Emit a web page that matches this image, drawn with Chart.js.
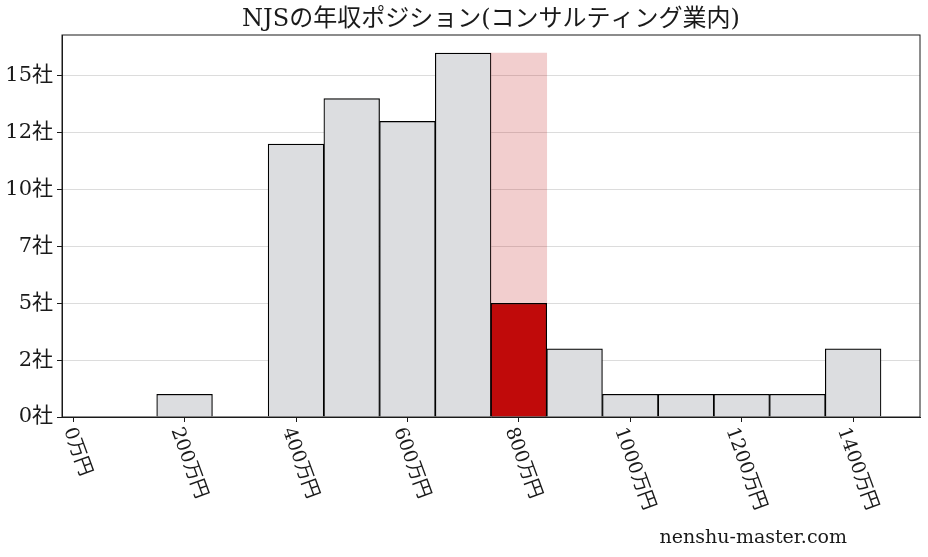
<!DOCTYPE html>
<html>
<head>
<meta charset="utf-8">
<script src="https://cdn.jsdelivr.net/npm/chart.js@4/dist/chart.umd.min.js"></script>
<style>
  html, body { margin: 0; padding: 0; background: #fff; }
  #cadre { width: 928px; height: 557px; }
</style>
</head>
<body>
<div id="cadre"><canvas id="graph-salaires"></canvas></div>
<script>
const titre = "NJSの年収ポジション(コンサルティング業内)";
const filigrane = "nenshu-master.com";

// histogramme (centre de classe en 万円, nombre de sociétés)
const classes = [200, 400, 500, 600, 700, 900, 1000, 1100, 1200, 1300, 1400];
const effectifs = [1, 12, 14, 13, 16, 3, 1, 1, 1, 1, 3];
// classe de la société mise en avant
const classeCible = [800];
const effectifClasseCible = [16];
const effectifSociete = [5];

const ticksX = [0, 200, 400, 600, 800, 1000, 1200, 1400];
const ticksY = [0, 2.5, 5, 7.5, 10, 12.5, 15];

const police = "'DejaVu Serif', 'Noto Sans CJK JP', serif";
const noir = "#1a1a1a";

const enPoints = (xs, ys) => xs.map((x, i) => ({ x: x, y: ys[i] }));

const decor = {
  id: "decor",
  afterDatasetsDraw(chart) {
    const { ctx, chartArea: a } = chart;
    ctx.save();
    ctx.strokeStyle = noir;
    ctx.lineWidth = 1;
    ctx.strokeRect(a.left, a.top, a.right - a.left, a.bottom - a.top);
    ctx.restore();
  },
  afterDraw(chart) {
    const { ctx, chartArea: a } = chart;
    const echelleX = chart.scales.x;
    ctx.save();
    ctx.fillStyle = noir;

    // titre centré sur la zone du graphique
    ctx.font = "24px " + police;
    ctx.textAlign = "center";
    ctx.textBaseline = "middle";
    ctx.fillText(titre, (a.left + a.right) / 2, 20);

    // libellés de l'axe X, tournés dans le sens horaire
    const angle = 70 * Math.PI / 180;
    const taille = 19;
    ctx.font = taille + "px " + police;
    ctx.textAlign = "left";
    ctx.textBaseline = "middle";
    ticksX.forEach(v => {
      const texte = v + "万円";
      const w = ctx.measureText(texte).width;
      const px = echelleX.getPixelForValue(v) + 4;
      const ox = px - w * Math.cos(angle) / 2;
      const oy = a.bottom + 8 + taille / 2 * Math.cos(angle);
      ctx.save();
      ctx.translate(ox, oy);
      ctx.rotate(angle);
      ctx.fillText(texte, 0, 0);
      ctx.restore();
    });

    // filigrane
    ctx.font = "19px " + police;
    ctx.textAlign = "right";
    ctx.textBaseline = "alphabetic";
    ctx.fillText(filigrane, 847, 543);
    ctx.restore();
  }
};

const ctx = document.getElementById("graph-salaires").getContext("2d");
new Chart(ctx, {
  type: "bar",
  data: {
    datasets: [
      {
        label: "société",
        data: enPoints(classeCible, effectifSociete),
        backgroundColor: "#c00a0a",
        borderColor: "#000",
        borderWidth: 1.2,
        order: 0
      },
      {
        label: "classe",
        data: enPoints(classeCible, effectifClasseCible),
        backgroundColor: "rgba(192, 10, 10, 0.2)",
        borderWidth: 0,
        order: 1
      },
      {
        label: "toutes",
        data: enPoints(classes, effectifs),
        backgroundColor: "#dcdde0",
        borderColor: "#000",
        borderWidth: 1.2,
        order: 2
      }
    ]
  },
  options: {
    responsive: true,
    maintainAspectRatio: false,
    animation: false,
    layout: { padding: { top: 35, right: 8, left: 0, bottom: 0 } },
    datasets: {
      bar: { grouped: false, barPercentage: 1, categoryPercentage: 1 }
    },
    scales: {
      x: {
        type: "linear",
        min: -20,
        max: 1520,
        offset: false,
        afterBuildTicks: s => { s.ticks = ticksX.map(v => ({ value: v })); },
        afterFit: s => { s.height = 140; },
        ticks: { display: false },
        grid: { offset: false, drawOnChartArea: false, drawTicks: true, tickLength: 5, tickColor: noir },
        border: { color: noir, width: 1 }
      },
      y: {
        min: 0,
        max: 16.8,
        afterBuildTicks: s => { s.ticks = ticksY.map(v => ({ value: v })); },
        afterFit: s => { s.width = 62; },
        ticks: {
          color: noir,
          padding: 4,
          font: { family: police, size: 21 },
          callback: v => Math.floor(v) + "社"
        },
        grid: { color: "#dcdcdc", lineWidth: 1, tickLength: 5, tickColor: noir },
        border: { color: noir, width: 1 }
      }
    },
    plugins: {
      legend: { display: false },
      tooltip: { enabled: false },
      title: { display: false }
    }
  },
  plugins: [decor]
});
</script>
</body>
</html>
